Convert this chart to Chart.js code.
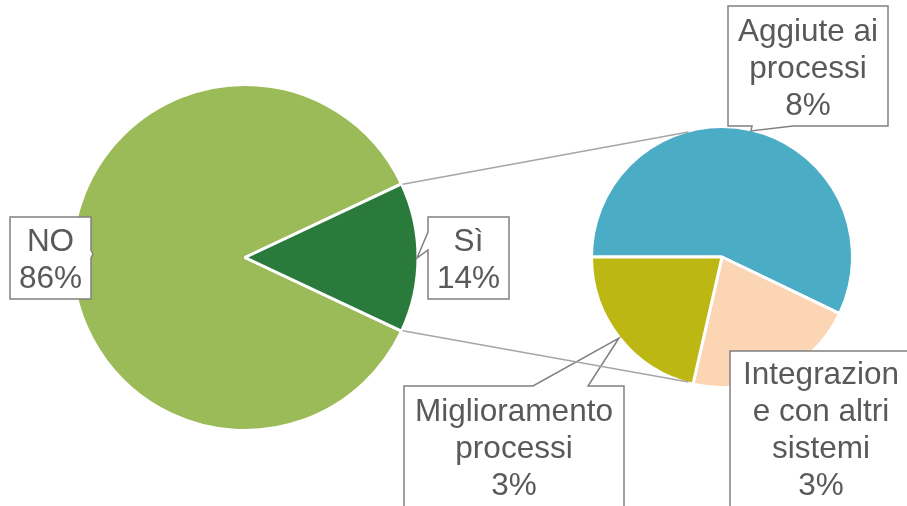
<!DOCTYPE html>
<html>
<head>
<meta charset="utf-8">
<script src="https://cdn.jsdelivr.net/npm/chart.js@4"></script>
<style>
  html, body { margin: 0; padding: 0; background: #fff; }
  #wrap { position: relative; width: 907px; height: 506px; overflow: hidden; }
  #wrap canvas { position: absolute; left: 0; top: 0; }
</style>
</head>
<body>
<div id="wrap">
  <canvas id="mainPie" width="907" height="506"></canvas>
  <canvas id="subPie" width="907" height="506"></canvas>
</div>
<script>
// Torta principale
const mainLabels = ['NO', 'Sì'];
const mainValues = [86, 14];
const mainColors = ['#9BBB59', '#2A7B3B'];

// Torta secondaria (dettaglio dei "Sì")
const subLabels = ['Aggiute ai processi', 'Integrazione con altri sistemi', 'Miglioramento processi'];
const subValues = [8, 3, 3];
const subColors = ['#4BACC6', '#FCD5B5', '#BDB713'];

// Testo delle etichette già spezzato su più righe
const mainLabelLines = [['NO'], ['Sì']];
const subLabelLines = [['Aggiute ai', 'processi'], ['Integrazion', 'e con altri', 'sistemi'], ['Miglioramento', 'processi']];

const textColor = '#595959';
const boxColor = '#808080';
const lineColor = '#A6A6A6';
const labelFont = "31.5px 'Liberation Sans', Arial, sans-serif";
const lineHeight = 37;

// Posizione dei riquadri delle etichette (box, prima riga, freccia)
const mainBoxes = [
  { x: 10, y: 217, w: 81, h: 82, base: 251, ptr: { side: 'right', a: 250, b: 258, tip: [93, 254] } },
  { x: 428, y: 217, w: 81, h: 82, base: 251, ptr: { side: 'left', a: 232, b: 250, tip: [417, 258] } }
];
const subBoxes = [
  { x: 728, y: 6, w: 160, h: 120, base: 41, ptr: { side: 'bottom', a: 752, b: 793, tip: [751, 131] } },
  { x: 730, y: 351, w: 182, h: 170, base: 384, ptr: null },
  { x: 404, y: 386, w: 220, h: 125, base: 421, ptr: { side: 'top', a: 533, b: 588, tip: [619, 338] } }
];

// Disegna un riquadro con freccia (callout)
const drawCallout = (ctx, b) => {
  const { x, y, w, h, ptr } = b;
  const r = x + w, bt = y + h;
  ctx.beginPath();
  ctx.moveTo(x, y);
  if (ptr && ptr.side === 'top') {
    ctx.lineTo(ptr.a, y); ctx.lineTo(ptr.tip[0], ptr.tip[1]); ctx.lineTo(ptr.b, y);
  }
  ctx.lineTo(r, y);
  if (ptr && ptr.side === 'right') {
    ctx.lineTo(r, ptr.a); ctx.lineTo(ptr.tip[0], ptr.tip[1]); ctx.lineTo(r, ptr.b);
  }
  ctx.lineTo(r, bt);
  if (ptr && ptr.side === 'bottom') {
    ctx.lineTo(ptr.b, bt); ctx.lineTo(ptr.tip[0], ptr.tip[1]); ctx.lineTo(ptr.a, bt);
  }
  ctx.lineTo(x, bt);
  if (ptr && ptr.side === 'left') {
    ctx.lineTo(x, ptr.b); ctx.lineTo(ptr.tip[0], ptr.tip[1]); ctx.lineTo(x, ptr.a);
  }
  ctx.closePath();
  ctx.fillStyle = '#fff';
  ctx.fill();
  ctx.lineWidth = 1.5;
  ctx.strokeStyle = boxColor;
  ctx.stroke();
};

const drawLabel = (ctx, box, lines, value) => {
  drawCallout(ctx, box);
  ctx.fillStyle = textColor;
  ctx.font = labelFont;
  ctx.textAlign = 'center';
  ctx.textBaseline = 'alphabetic';
  const cx = box.x + box.w / 2;
  const all = lines.concat([value + '%']);
  all.forEach((t, i) => ctx.fillText(t, cx, box.base + i * lineHeight));
};

// Grafico principale
const mainChart = new Chart(document.getElementById('mainPie'), {
  type: 'pie',
  data: {
    labels: mainLabels,
    datasets: [{
      data: mainValues,
      backgroundColor: mainColors,
      borderColor: '#fff',
      borderWidth: 3
    }]
  },
  options: {
    responsive: false,
    animation: false,
    devicePixelRatio: 1,
    radius: 173,
    // il "Sì" è centrato sull'orizzontale a destra
    rotation: 90 + mainValues[1] / 100 * 360 / 2,
    layout: { padding: { left: 73, right: 490, top: 86, bottom: 77 } },
    plugins: { legend: { display: false }, tooltip: { enabled: false } }
  }
});

// Plugin per linee di collegamento ed etichette
const overlayPlugin = {
  id: 'overlay',
  afterDraw(chart) {
    const ctx = chart.ctx;
    const siArc = mainChart.getDatasetMeta(0).data[1];
    const sp = siArc.getProps(['x', 'y', 'startAngle', 'endAngle', 'outerRadius'], true);
    const subArc = chart.getDatasetMeta(0).data[0];
    const cp = subArc.getProps(['x', 'y', 'outerRadius'], true);

    // etichette
    mainBoxes.forEach((b, i) => drawLabel(ctx, b, mainLabelLines[i], mainValues[i]));
    subBoxes.forEach((b, i) => drawLabel(ctx, b, subLabelLines[i], subValues[i]));

    // linee di collegamento
    const ang = 15 * Math.PI / 180;
    const rIn = sp.outerRadius - 1;
    const rOut = cp.outerRadius - 1;
    const ends = [
      [sp.startAngle, -1],
      [sp.endAngle, 1]
    ];
    ctx.save();
    ctx.strokeStyle = lineColor;
    ctx.lineWidth = 1.5;
    ends.forEach(([a, s]) => {
      ctx.beginPath();
      ctx.moveTo(sp.x + rIn * Math.cos(a) + 2, sp.y + rIn * Math.sin(a));
      ctx.lineTo(cp.x - rOut * Math.sin(ang), cp.y + s * rOut * Math.cos(ang));
      ctx.stroke();
    });
    ctx.restore();
  }
};

// Grafico secondario
const subChart = new Chart(document.getElementById('subPie'), {
  type: 'pie',
  data: {
    labels: subLabels,
    datasets: [{
      data: subValues,
      backgroundColor: subColors,
      borderColor: '#fff',
      borderWidth: 3
    }]
  },
  options: {
    responsive: false,
    animation: false,
    devicePixelRatio: 1,
    radius: 130.5,
    rotation: -90,
    layout: { padding: { left: 592, right: 55, top: 127, bottom: 119 } },
    plugins: { legend: { display: false }, tooltip: { enabled: false } }
  },
  plugins: [overlayPlugin]
});
</script>
</body>
</html>
